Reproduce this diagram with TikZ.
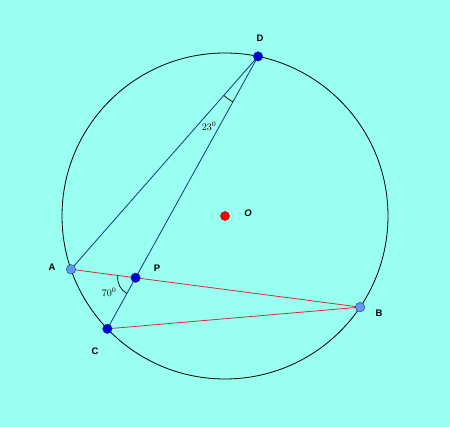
\documentclass[tikz,border=0pt]{standalone}
\usepackage{fontspec}
\setmainfont{Liberation Sans}
\usepackage{amsmath}
\usepackage{xcolor}
\usepackage{tikz}

\definecolor{bgcyan}{RGB}{153,255,240}
\definecolor{chordblue}{RGB}{15,60,115}
\definecolor{chordred}{RGB}{215,45,55}
\definecolor{dotdark}{RGB}{0,0,210}
\definecolor{dotlight}{RGB}{100,150,245}

\begin{document}
\begin{tikzpicture}[x=1pt,y=1pt,
    darkdot/.style={circle,draw=chordblue,fill=dotdark,inner sep=0pt,minimum size=9.5pt},
    lightdot/.style={circle,draw=chordblue,fill=dotlight,inner sep=0pt,minimum size=9.5pt},
    ptlabel/.style={font=\fontsize{9.5}{11}\selectfont\bfseries},
    anglabel/.style={font=\fontsize{10}{12}\selectfont}]
                    \fill[bgcyan] (0,0) rectangle (450,427);
                    \useasboundingbox (0,0) rectangle (450,427);

                    \coordinate (O) at (225,211);
                    \foreach \n/\a in {D/78.3,A/199.1,B/-34,C/223.8}{
                        \path (O) ++(\a:163) coordinate (\n);
                    }
                    \coordinate (P) at (intersection of A--B and C--D);

                    \draw[line width=0.8pt] (O) circle [radius=163];

                    \draw[chordblue,line width=0.8pt] (D) -- (A);
                    \draw[chordblue,line width=0.8pt] (D) -- (C);
                    \draw[chordred,line width=0.8pt] (A) -- (B);
                    \draw[chordred,line width=0.8pt] (C) -- (B);

                    % angle marks
                    \draw[line width=0.7pt] (D) ++(228.7:52) arc [start angle=228.7,end angle=241.1,radius=52];
                    \draw[line width=0.7pt] (P) ++(172.6:18) arc [start angle=172.6,end angle=241.1,radius=18];

                    \foreach \n in {D,P,C}{
                        \node[darkdot] (dot\n) at (\n) {};
                    }
                    \foreach \n in {A,B}{
                        \node[lightdot] (dot\n) at (\n) {};
                    }
                    \node[circle,draw=red!60!black,fill=red,inner sep=0pt,minimum size=9pt] (dotO) at (O) {};

                    \node[ptlabel] (lblD) at (260,389) {D};
                    \node[ptlabel] (lblA) at (52,160) {A};
                    \node[ptlabel] (lblP) at (157,159) {P};
                    \node[ptlabel] (lblB) at (379,114) {B};
                    \node[ptlabel] (lblC) at (95,76) {C};
                    \node[ptlabel] (lblO) at (248,214) {\itshape O};

                    \node[anglabel] (angD) at (209,301) {$23^0$};
                    \node[anglabel] (angP) at (109,135) {$70^0$};
                \end{tikzpicture}
\end{document}
